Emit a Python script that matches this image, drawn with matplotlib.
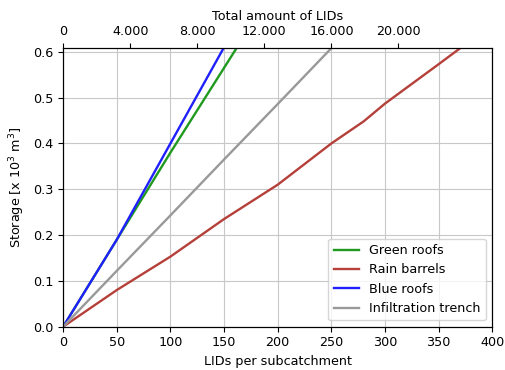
import numpy as np
import matplotlib
matplotlib.use('Agg')
import matplotlib.pyplot as plt

plt.rcParams['font.size'] = 9.2

# LIDs per subcatchment vs storage [x 10^3 m^3]
lids = [0, 50, 100, 150, 200]
green_roofs = [0, 0.19, 0.38, 0.565, 0.75]
blue_roofs = [0, 0.19, 0.40, 0.61, 0.82]

lids_long = [0, 50, 100, 150, 200, 250, 280, 300, 350, 400]
rain_barrels = [0, 0.08, 0.153, 0.235, 0.31, 0.40, 0.448, 0.487, 0.573, 0.66]
infiltration = [0, 0.122, 0.243, 0.365, 0.486, 0.608, 0.68, 0.73, 0.85, 0.97]

n_subcatchments = 64
top_ticks = [0, 4000, 8000, 12000, 16000, 20000]
top_labels = ['0', '4.000', '8.000', '12.000', '16.000', '20.000']

fig, ax = plt.subplots(figsize=(5.05, 3.7), dpi=100)
fig.subplots_adjust(left=0.125, right=0.975, top=0.87, bottom=0.117)

ax.plot(lids, green_roofs, color='#1f9a1f', lw=1.7, label='Green roofs')
ax.plot(lids_long, rain_barrels, color='#b5403a', lw=1.7, label='Rain barrels')
ax.plot(lids, blue_roofs, color='#2020ff', lw=1.7, label='Blue roofs')
ax.plot(lids_long, infiltration, color='#999999', lw=1.7, label='Infiltration trench')

ax.set_xlim(0, 400)
ax.set_ylim(0, 0.608)
ax.set_xlabel('LIDs per subcatchment')
ax.set_ylabel('Storage [x 10$^3$ m$^3$]')
ax.grid(True, color='#c8c8c8')
ax.legend(loc='lower right')

ax2 = ax.twiny()
ax2.set_xlim(0, 400 * n_subcatchments)
ax2.set_xticks(top_ticks)
ax2.set_xticklabels(top_labels)
ax2.set_xlabel('Total amount of LIDs')

plt.savefig('out.png')
